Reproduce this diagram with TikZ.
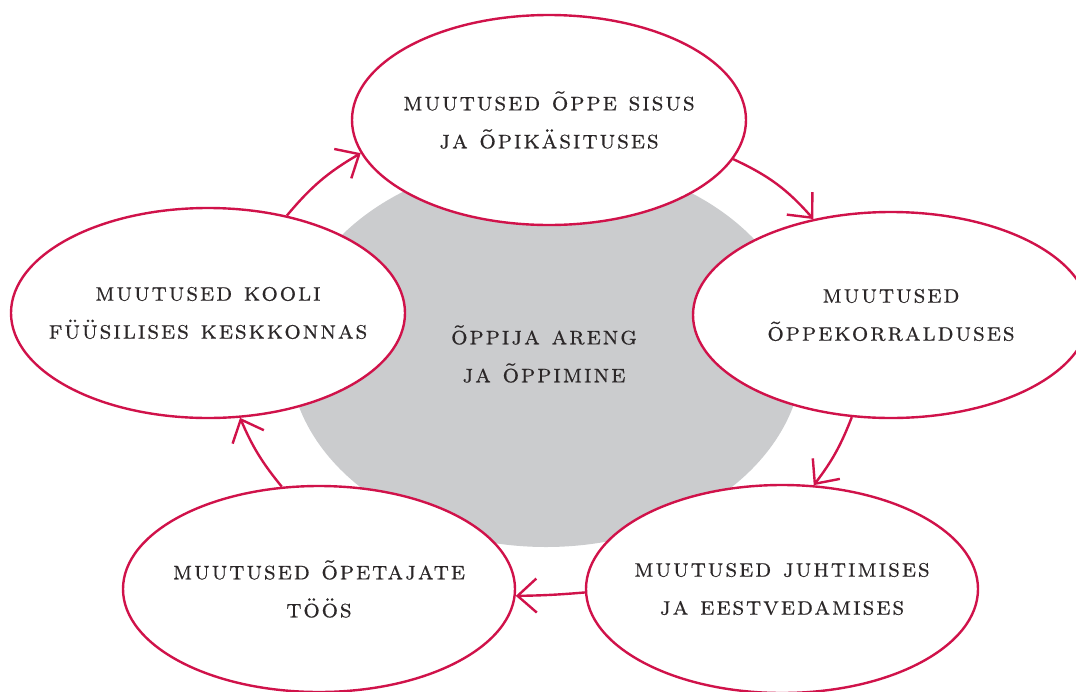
\documentclass[tikz,border=0pt]{standalone}
\usepackage{fontspec}
\newfontfamily\capsfont[LetterSpace=6.5,FakeBold=0.4]{lmromancaps10-regular.otf}
\usetikzlibrary{shapes.geometric,arrows.meta}
\definecolor{ringred}{HTML}{D0124A}
\definecolor{coregray}{HTML}{CBCCCE}
\definecolor{inkgray}{HTML}{2B2728}
\begin{document}
\begin{tikzpicture}[x=1pt,y=1pt,
  labeltext/.style={text=inkgray, align=center, inner sep=0pt, font=\capsfont\fontsize{26}{38}\selectfont},
  theme/.style={ellipse, draw=ringred, line width=2.4pt, fill=white, inner sep=0pt},
  flow/.style={draw=ringred, line width=2.4pt, -{Straight Barb[length=19pt,width=34pt]}}]
  \useasboundingbox (0,0) rectangle (1076,-691);
  \clip (0,0) rectangle (1076,-691);

  % central area
  \node[ellipse, fill=coregray, inner sep=0pt, minimum width=514pt, minimum height=388pt]
    (core) at (546,-353) {};
  \node[labeltext] (core-text) at (544,-354) {õppija areng\\ja õppimine};

  % the five fields of change
  \node[theme, minimum width=394pt, minimum height=210pt] (top)   at (549,-120) {};
  \node[theme, minimum width=396pt, minimum height=206pt] (right) at (891,-315) {};
  \node[theme, minimum width=392pt, minimum height=208pt] (botR)  at (782,-589) {};
  \node[theme, minimum width=392pt, minimum height=206pt] (botL)  at (319,-589) {};
  \node[theme, minimum width=394pt, minimum height=210pt] (left)  at (208,-313) {};

  \node[labeltext] (top-text)   at (top.center)   {muutused õppe sisus\\ja õpikäsituses};
  \node[labeltext] (right-text) at (right.center) {muutused\\õppekorralduses};
  \node[labeltext] (botR-text)  at (botR.center)  {muutused juhtimises\\ja eestvedamises};
  \node[labeltext] (botL-text)  at (botL.center)  {muutused õpetajate\\töös};
  \node[labeltext] (left-text)  at (left.center)  {muutused kooli\\füüsilises keskkonnas};

  % clockwise cycle
  \draw[flow] (left.51.6)   to[bend left=10] (top.190.8);
  \draw[flow] (top.348.8)   to[bend left=12] (right.129.6);
  \draw[flow] (right.249.6) to[bend left=8]  (botR.73.1);
  \draw[flow] (botR.181.5)  to[bend left=2]  (botL.358.2);
  \draw[flow] (botL.110.4)  to[bend left=8]  (left.287);
\end{tikzpicture}
\end{document}
